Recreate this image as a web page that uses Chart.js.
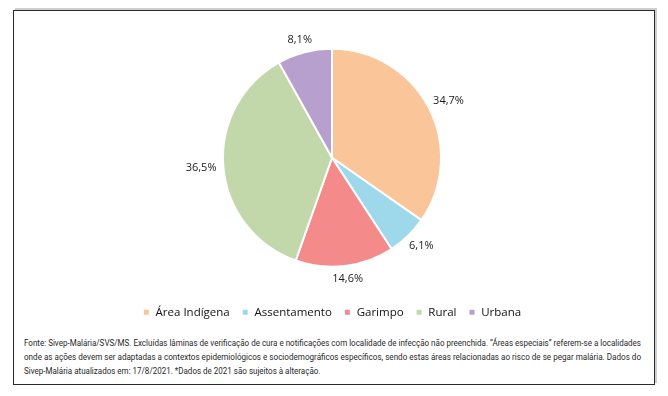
<!DOCTYPE html>
<html>
<head>
<meta charset="utf-8">
<script src="https://cdn.jsdelivr.net/npm/chart.js@4/dist/chart.umd.min.js"></script>
<style>
  html, body { margin: 0; padding: 0; background: #fff; }
  body { width: 668px; height: 396px; position: relative; overflow: hidden; }
  #frame {
    position: absolute; left: 13px; top: 10px; width: 640px; height: 373px;
    border: 1.5px solid #2a2a2a;
    box-shadow: 2px -2px 0 #cfcfcf;
  }
  #wrap { position: absolute; left: 0; top: 0; width: 668px; height: 328px; }
  #note {
    position: absolute; left: 24px; top: 336px;
    font-family: Roboto, "Liberation Sans", sans-serif; font-size: 9.5px; color: #2a2a2a;
  }
  #note div { height: 14px; line-height: 14px; white-space: nowrap; }
  #note span { display: inline-block; transform-origin: 0 0; }
</style>
</head>
<body>
<div id="frame"></div>
<div id="wrap"><canvas id="c"></canvas></div>
<div id="note">
  <div><span id="l1">Fonte: Sivep-Malária/SVS/MS. Excluídas lâminas de verificação de cura e notificações com localidade de infecção não preenchida. “Áreas especiais” referem-se a localidades</span></div>
  <div><span id="l2">onde as ações devem ser adaptadas a contextos epidemiológicos e sociodemográficos específicos, sendo estas áreas relacionadas ao risco de se pegar malária. Dados do</span></div>
  <div><span id="l3">Sivep-Malária atualizados em: 17/8/2021. *Dados de 2021 são sujeitos à alteração.</span></div>
</div>
<script>
const categories = ["Área Indígena", "Assentamento", "Garimpo", "Rural", "Urbana"];
const values = [34.7, 6.1, 14.6, 36.5, 8.1];
const colors = ["#F9C599", "#9DD9EA", "#F48B8A", "#C3D8AA", "#B8A0CE"];

const labelPlugin = {
  id: "outLabels",
  afterDatasetsDraw(chart) {
    const ctx = chart.ctx;
    const meta = chart.getDatasetMeta(0);
    ctx.save();
    ctx.font = "11px 'Open Sans', sans-serif";
    ctx.fillStyle = "#1a1a1a";
    ctx.textAlign = "center";
    ctx.textBaseline = "middle";
    meta.data.forEach((arc, i) => {
      const p = arc.getProps(["x", "y", "startAngle", "endAngle", "outerRadius"], true);
      const mid = (p.startAngle + p.endAngle) / 2;
      const txt = values[i].toFixed(1).replace(".", ",") + "%";
      const hw = ctx.measureText(txt).width / 2, hh = 6;
      const r = p.outerRadius + 7;
      const cx = p.x + Math.cos(mid) * r + Math.cos(mid) * hw;
      const cy = p.y + Math.sin(mid) * r + Math.sin(mid) * hh;
      ctx.fillText(txt, cx, cy);
    });
    ctx.restore();
  }
};

new Chart(document.getElementById("c"), {
  type: "pie",
  data: {
    labels: categories,
    datasets: [{
      data: values,
      backgroundColor: colors,
      borderColor: "#fff",
      borderWidth: 2,
      radius: 109
    }]
  },
  options: {
    responsive: true,
    maintainAspectRatio: false,
    animation: false,
    layout: { padding: { top: 21, left: 0, right: 4, bottom: 0 } },
    plugins: {
      tooltip: { enabled: false },
      legend: {
        position: "bottom",
        labels: {
          boxWidth: 7, boxHeight: 7, padding: 12,
          color: "#111",
          font: { family: "'Open Sans', sans-serif", size: 11.5 }
        }
      }
    }
  },
  plugins: [labelPlugin]
});

// fit footnote lines to their widths
(function () {
  const l1 = document.getElementById("l1"), l2 = document.getElementById("l2"), l3 = document.getElementById("l3");
  const s1 = 617 / l1.getBoundingClientRect().width;
  const s2 = 617 / l2.getBoundingClientRect().width;
  l1.style.transform = "scaleX(" + s1 + ")";
  l2.style.transform = "scaleX(" + s2 + ")";
  l3.style.transform = "scaleX(" + s1 + ")";
})();
</script>
</body>
</html>
